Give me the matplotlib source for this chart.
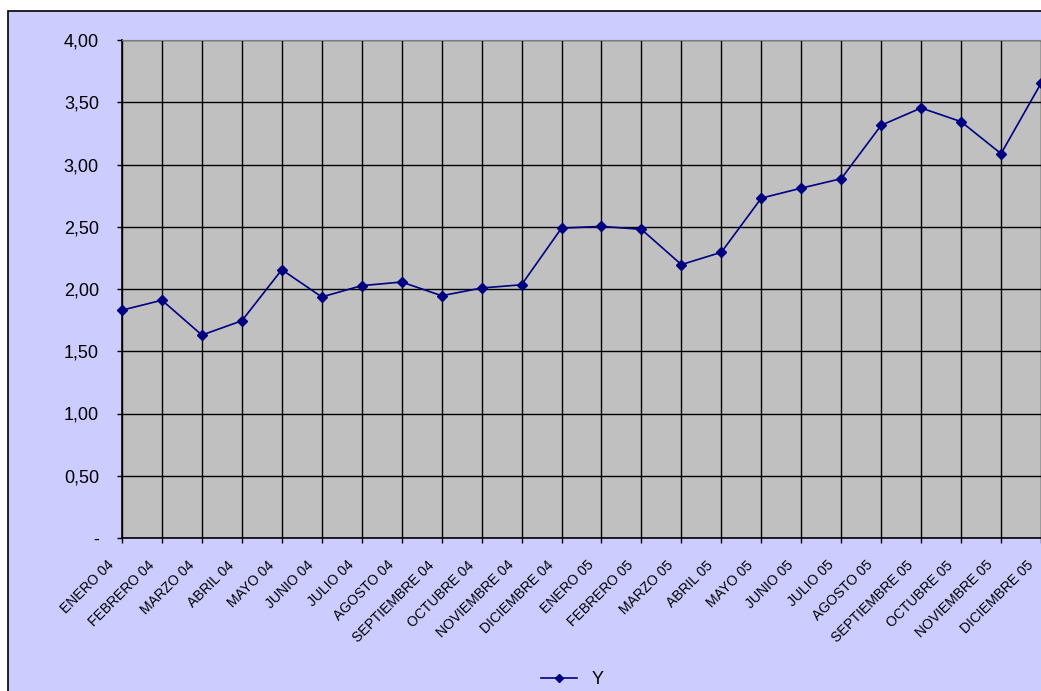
import matplotlib.pyplot as plt
from matplotlib.patches import Rectangle
from matplotlib.ticker import FuncFormatter
from matplotlib.transforms import ScaledTranslation

plt.rcParams['font.family'] = ['Liberation Sans', 'DejaVu Sans']

meses = ['ENERO 04', 'FEBRERO 04', 'MARZO 04', 'ABRIL 04', 'MAYO 04', 'JUNIO 04',
         'JULIO 04', 'AGOSTO 04', 'SEPTIEMBRE 04', 'OCTUBRE 04', 'NOVIEMBRE 04',
         'DICIEMBRE 04', 'ENERO 05', 'FEBRERO 05', 'MARZO 05', 'ABRIL 05', 'MAYO 05',
         'JUNIO 05', 'JULIO 05', 'AGOSTO 05', 'SEPTIEMBRE 05', 'OCTUBRE 05',
         'NOVIEMBRE 05', 'DICIEMBRE 05']
y = [1.83, 1.91, 1.63, 1.745, 2.155, 1.936, 2.027, 2.056, 1.946, 2.008, 2.034,
     2.489, 2.503, 2.479, 2.196, 2.295, 2.73, 2.81, 2.886, 3.315, 3.454, 3.344,
     3.087, 3.652]
yticks = [0, 0.5, 1.0, 1.5, 2.0, 2.5, 3.0, 3.5, 4.0]

fig = plt.figure(figsize=(10.41, 6.91), dpi=100, facecolor='white')
# lavender chart area with black border
fig.patches.append(Rectangle((8 / 1041, -0.05), 1.1, 1 - 11 / 691 + 0.05,
                             transform=fig.transFigure, facecolor='#CCCCFF',
                             edgecolor='black', linewidth=1.2, zorder=-5))

ax = fig.add_axes([122 / 1041, 1 - 538 / 691, 1 - 122 / 1041, (538 - 40) / 691])
ax.set_facecolor('#C0C0C0')

x = list(range(len(meses)))
ax.plot(x, y, color='#000080', linewidth=1.2, marker='D', markersize=5,
        label='Y', clip_on=False, zorder=3)

ax.set_xlim(0, len(meses) - 1)
ax.set_ylim(0, 4)
ax.set_xticks(x)
ax.set_xticklabels([])
# rotated month labels, ending a little left of each tick like the original
lab_tr = ax.get_xaxis_transform() + ScaledTranslation(-0.10, -0.25, fig.dpi_scale_trans)
for i, m in zip(x, meses):
    ax.text(i, 0, m, transform=lab_tr, rotation=45, ha='right', va='center',
            rotation_mode='anchor', fontsize=10, clip_on=False)

ax.set_yticks(yticks)
ax.yaxis.set_major_formatter(FuncFormatter(
    lambda v, p: '-' if v == 0 else ('%.2f' % v).replace('.', ',')))
ax.tick_params(axis='y', labelsize=13, length=3.6, width=1, color='black', pad=13)
ax.tick_params(axis='x', length=3.6, width=1, color='black')

ax.grid(True, color='black', linewidth=1)
ax.set_axisbelow(True)
for s in ['left', 'bottom']:
    ax.spines[s].set_color('black')
    ax.spines[s].set_linewidth(1.2)
ax.spines['top'].set_color('#808080')
ax.spines['right'].set_visible(False)

fig.legend(loc='center', bbox_to_anchor=(0.55, 1 - 680 / 691), frameon=False,
           fontsize=13, handlelength=2.0, markerscale=0.8)

fig.savefig('out.png', dpi=100, facecolor=fig.get_facecolor())
